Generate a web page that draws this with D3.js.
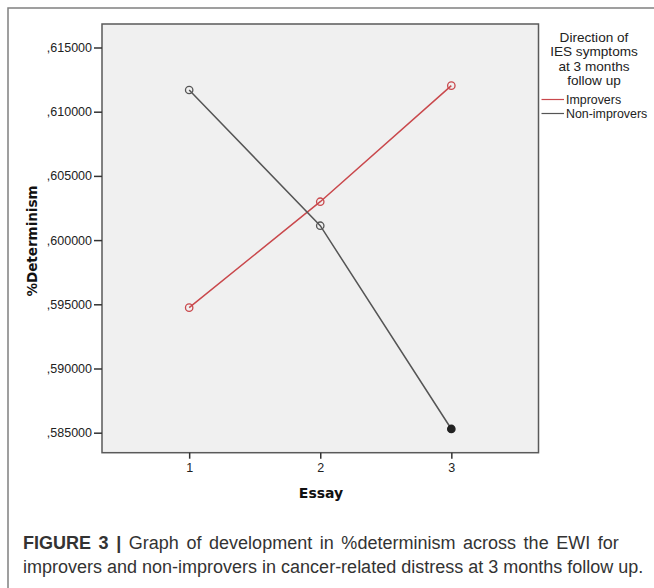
<!DOCTYPE html>
<html>
<head>
<meta charset="utf-8">
<script src="https://cdn.jsdelivr.net/npm/d3@7"></script>
<style>
	body { margin: 0; background: #fff; }
	svg { display: block; }
	.tick text { font-family: "Liberation Sans", Arial, sans-serif; }
</style>
</head>
<body>
<svg id="chart" width="654" height="588"></svg>
<script>
(function (d3) {
	"use strict";

	/***** Data *****/
	var essays = [1, 2, 3];
	var improvers = [0.59474, 0.60299, 0.61203];
	var nonImprovers = [0.61169, 0.60112, 0.58529];
	var yTicks = [0.585, 0.590, 0.595, 0.600, 0.605, 0.610, 0.615];
	var seriesNames = ["Improvers", "Non-improvers"];
	var legendTitle = ["Direction of", "IES symptoms", "at 3 months", "follow up"];
	var captionBold = "FIGURE 3 |";
	var captionLines = [
		" Graph of development in %determinism across the EWI for",
		"improvers and non-improvers in cancer-related distress at 3 months follow up."
	];

	/***** Layout *****/
	const plot = {left: 102, top: 24, right: 538.5, bottom: 452.7};
	const colors = ["#c9484c", "#555555"];

	var svg = d3.select("#chart");

	// outer figure frame (only top and left edges are visible)
	svg.append("rect")
		.attr("x", 8).attr("y", 8)
		.attr("width", 700).attr("height", 700)
		.attr("fill", "none")
		.attr("stroke", "#808080")
		.attr("stroke-width", 1.5);

	// Scales
	var x = d3.scaleLinear().domain([0.335, 3.665]).range([plot.left, plot.right]);
	var y = d3.scaleLinear().domain([0.583442, 0.61683]).range([plot.bottom, plot.top]);

	// plot background
	svg.append("rect")
		.attr("x", plot.left).attr("y", plot.top)
		.attr("width", plot.right - plot.left)
		.attr("height", plot.bottom - plot.top)
		.attr("fill", "#f0f0f0")
		.attr("stroke", "#5a5a5a")
		.attr("stroke-width", 1.5);

	/***** Axes *****/
	var fmt = d3.format(".6f");
	var yAxis = d3.axisLeft(y)
		.tickValues(yTicks)
		.tickSize(8)
		.tickPadding(2)
		.tickFormat(function (v) { return fmt(v).slice(1).replace(".", ","); });

	var gy = svg.append("g")
		.attr("transform", "translate(" + plot.left + ",0)")
		.call(yAxis);

	var xAxis = d3.axisBottom(x)
		.tickValues(essays)
		.tickSize(6)
		.tickPadding(4)
		.tickFormat(d3.format("d"));

	var gx = svg.append("g")
		.attr("transform", "translate(0," + plot.bottom + ")")
		.call(xAxis);

	[gx, gy].forEach(function (g) {
		g.select(".domain").remove();
		g.selectAll(".tick line").attr("stroke", "#333").attr("stroke-width", 1.5);
		g.selectAll(".tick text")
			.attr("fill", "#222")
			.style("font-size", "12.5px");
	});

	// Axis titles
	svg.append("text")
		.attr("transform", "translate(37,241) rotate(-90)")
		.attr("text-anchor", "middle")
		.style("font-family", "DejaVu Sans, sans-serif")
		.style("font-weight", "bold")
		.style("font-size", "13.5px")
		.attr("fill", "#111")
		.text("%Determinism");

	svg.append("text")
		.attr("x", 321).attr("y", 497.5)
		.attr("text-anchor", "middle")
		.style("font-family", "DejaVu Sans, sans-serif")
		.style("font-weight", "bold")
		.style("font-size", "14px")
		.attr("fill", "#111")
		.text("Essay");

	/***** Lines and markers *****/
	var line = d3.line()
		.x(function (d, i) { return x(essays[i]); })
		.y(function (d) { return y(d); });

	[improvers, nonImprovers].forEach(function (series, s) {
		svg.append("path")
			.datum(series)
			.attr("d", line)
			.attr("fill", "none")
			.attr("stroke", colors[s])
			.attr("stroke-width", 1.5);

		svg.selectAll(null)
			.data(series)
			.enter().append("circle")
			.attr("cx", function (d, i) { return x(essays[i]); })
			.attr("cy", function (d) { return y(d); })
			.attr("r", 3.7)
			.attr("fill", function (d, i) {
				// last non-improvers point is drawn solid
				return (s === 1 && i === series.length - 1) ? "#222" : "none";
			})
			.attr("stroke", function (d, i) {
				return (s === 1 && i === series.length - 1) ? "#222" : colors[s];
			})
			.attr("stroke-width", 1.3);
	});

	/***** Legend *****/
	var legend = svg.append("g")
		.style("font-family", "Liberation Sans, Arial, sans-serif");

	legend.selectAll("text.title")
		.data(legendTitle)
		.enter().append("text")
		.attr("class", "title")
		.attr("x", 594)
		.attr("y", function (d, i) { return 42 + i * 14.4; })
		.attr("text-anchor", "middle")
		.style("font-size", "13.6px")
		.attr("fill", "#222")
		.text(function (d) { return d; });

	var items = legend.selectAll("g.item")
		.data(seriesNames)
		.enter().append("g")
		.attr("class", "item")
		.attr("transform", function (d, i) { return "translate(0," + (99.5 + i * 14) + ")"; });

	items.append("line")
		.attr("x1", 541.5).attr("x2", 564)
		.attr("stroke", function (d, i) { return colors[i]; })
		.attr("stroke-width", 1.2);

	items.append("text")
		.attr("x", 566).attr("y", 4.5)
		.style("font-size", "12.4px")
		.attr("fill", "#222")
		.text(function (d) { return d; });

	/***** Caption *****/
	var caption = svg.append("g")
		.style("font-family", "Liberation Sans, Arial, sans-serif")
		.style("font-size", "18px")
		.attr("fill", "#333");

	var first = caption.append("text")
		.attr("x", 23).attr("y", 549)
		.style("word-spacing", "2.6px");
	first.append("tspan").style("font-weight", "bold").text(captionBold);
	first.append("tspan").text(captionLines[0]);

	caption.append("text")
		.attr("x", 23).attr("y", 573)
		.text(captionLines[1]);

})(d3);
</script>
</body>
</html>
